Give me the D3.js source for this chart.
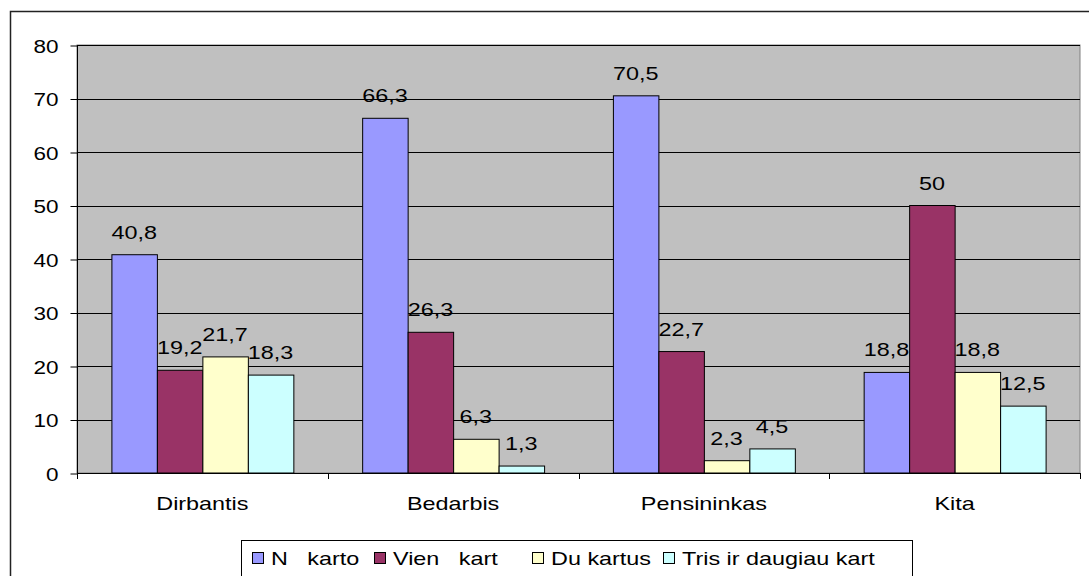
<!DOCTYPE html>
<html><head><meta charset="utf-8">
<script src="https://cdn.jsdelivr.net/npm/d3@7"></script>
<style>
html,body{margin:0;padding:0;background:#fff;}
svg{display:block;font-family:"Liberation Sans",Arial,sans-serif;}
text{white-space:pre;}
</style></head><body>
<svg id="chart" width="1089" height="576"></svg>
<script>
const categories = ["Dirbantis", "Bedarbis", "Pensininkas", "Kita"];
const seriesNames = ["N   karto", "Vien   kart", "Du kartus", "Tris ir daugiau kart"];
const seriesColors = ["#9999FF", "#993366", "#FFFFCC", "#CCFFFF"];
const neKarto = [40.8, 66.3, 70.5, 18.8];
const vienaKarta = [19.2, 26.3, 22.7, 50];
const duKartus = [21.7, 6.3, 2.3, 18.8];
const trisIrDaugiau = [18.3, 1.3, 4.5, 12.5];
const yTicks = [0, 10, 20, 30, 40, 50, 60, 70, 80];
const labelText = v => String(v).replace(".", ",");

const series = [neKarto, vienaKarta, duKartus, trisIrDaugiau];
const svg = d3.select("#chart");
const SX = 1.3;

// outer border
svg.append("rect").attr("x", 10.5).attr("y", 11.5).attr("width", 1200).attr("height", 700)
  .attr("fill", "#fff").attr("stroke", "#222").attr("stroke-width", 1.5);

const plot = {left: 77, right: 1080, top: 45, bottom: 473};
const y = d3.scaleLinear().domain([0, 80]).range([plot.bottom, plot.top]);
const x0 = d3.scaleBand().domain(categories).range([plot.left, plot.right]).paddingInner(0).paddingOuter(0);
const groupPad = 0.1372;
const x1 = d3.scaleBand().domain(d3.range(4))
  .range([x0.bandwidth() * groupPad, x0.bandwidth() * (1 - groupPad)]).padding(0);

// plot background
svg.append("rect").attr("x", plot.left).attr("y", plot.top)
  .attr("width", plot.right - plot.left).attr("height", plot.bottom - plot.top)
  .attr("fill", "#C0C0C0").attr("stroke", "#808080").attr("stroke-width", 1);

// gridlines
svg.append("g").selectAll("line").data(yTicks.filter(t => t > 0)).join("line")
  .attr("x1", plot.left).attr("x2", plot.right)
  .attr("y1", d => Math.round(y(d)) + 0.5).attr("y2", d => Math.round(y(d)) + 0.5)
  .attr("stroke", "#000").attr("stroke-width", 1);

// y axis
const yAxis = d3.axisLeft(y).tickValues(yTicks).tickSize(7).tickPadding(12).tickFormat(d => d);
const gy = svg.append("g").attr("transform", `translate(${plot.left + 0.5},0.5)`).call(yAxis);
gy.select(".domain").attr("d", `M0,${plot.top}V${plot.bottom + 5}`).attr("stroke", "#000");
gy.selectAll(".tick line").attr("stroke", "#000");
gy.selectAll(".tick text").each(function() {
  const t = d3.select(this);
  const xx = +t.attr("x");
  t.attr("x", null).attr("dy", null)
   .attr("transform", `translate(${xx},6.5) scale(1.25,1)`)
   .attr("font-size", 18).attr("fill", "#000").attr("font-family", "Liberation Sans, Arial, sans-serif");
});

// bars
const groups = svg.append("g").selectAll("g").data(categories).join("g")
  .attr("transform", d => `translate(${x0(d)},0)`);
groups.selectAll("rect").data((c, ci) => series.map((s, si) => ({si, v: s[ci]}))).join("rect")
  .attr("x", d => x1(d.si) + 0.5).attr("width", x1.bandwidth())
  .attr("y", d => y(d.v)).attr("height", d => y(0) - y(d.v))
  .attr("fill", d => seriesColors[d.si]).attr("stroke", "#000").attr("stroke-width", 1);

// value labels
groups.selectAll("text").data((c, ci) => series.map((s, si) => ({si, v: s[ci]}))).join("text")
  .attr("transform", d => `translate(${x1(d.si) + x1.bandwidth() / 2},${y(d.v) - 16}) scale(${SX},1)`)
  .attr("text-anchor", "middle").attr("font-size", 18).attr("fill", "#000")
  .text(d => labelText(d.v));

// x axis line and ticks
svg.append("line").attr("x1", plot.left).attr("x2", plot.right)
  .attr("y1", plot.bottom + 0.5).attr("y2", plot.bottom + 0.5).attr("stroke", "#000");
const bounds = categories.map(c => x0(c)).concat([plot.right]);
svg.append("g").selectAll("line").data(bounds).join("line")
  .attr("x1", d => Math.round(d) + 0.5).attr("x2", d => Math.round(d) + 0.5)
  .attr("y1", plot.bottom).attr("y2", plot.bottom + 6).attr("stroke", "#000");
svg.append("g").selectAll("text").data(categories).join("text")
  .attr("transform", d => `translate(${x0(d) + x0.bandwidth() / 2},510) scale(${SX},1)`)
  .attr("text-anchor", "middle").attr("font-size", 18).attr("fill", "#000").text(d => d);

// legend
svg.append("rect").attr("x", 241.5).attr("y", 540.5).attr("width", 671).attr("height", 60)
  .attr("fill", "#fff").attr("stroke", "#000").attr("stroke-width", 1);
const legendX = [252, 374, 532, 663];
const lg = svg.append("g").selectAll("g").data(seriesNames).join("g")
  .attr("transform", (d, i) => `translate(${legendX[i]},0)`);
lg.append("rect").attr("x", 0.5).attr("y", 552.5).attr("width", 11).attr("height", 11)
  .attr("fill", (d, i) => seriesColors[i]).attr("stroke", "#000");
lg.append("text").attr("transform", `translate(19,565) scale(${SX},1)`)
  .attr("font-size", 18).attr("fill", "#000").text(d => d);
</script>
</body></html>
